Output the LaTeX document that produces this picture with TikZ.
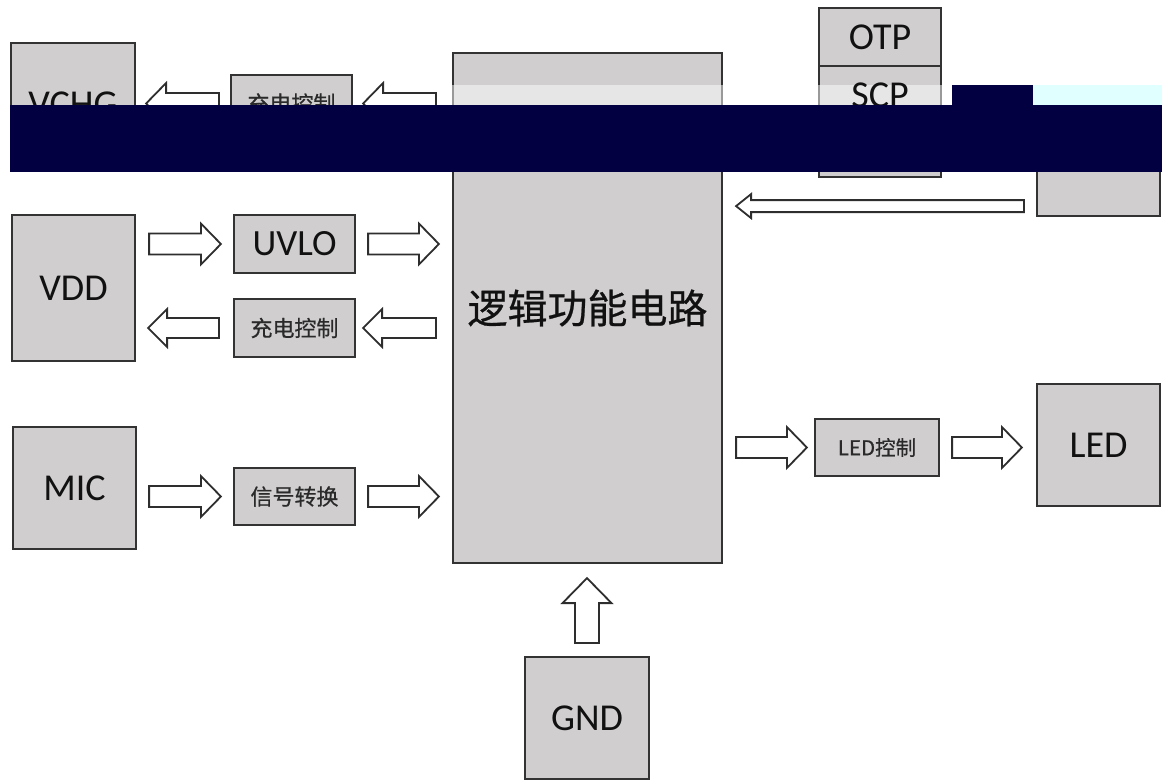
\documentclass[tikz,border=0pt]{standalone}
\usepackage{fontspec}
\setmainfont{Carlito}
\newfontfamily\cjk{Noto Sans CJK SC}[FakeBold=0.6]
\usetikzlibrary{calc}
\definecolor{boxfill}{HTML}{D0CECE}
\definecolor{boxline}{HTML}{333333}
\definecolor{arrowline}{HTML}{2E2E2E}
\definecolor{bandcol}{RGB}{2,0,64}
\definecolor{glitchcyan}{HTML}{E0FFFF}
\definecolor{txt}{HTML}{111111}
\definecolor{txtc}{HTML}{2A2A2A}
\newcommand\fL{\fontsize{38}{40}\selectfont}
\newcommand\fC{\cjk\fontsize{22}{24}\selectfont}
\newcommand\harrow[5]{\draw[barrow] let \p1=(#1),\p2=(#2),\p3=($(#2)!#5!(#1)$) in
  (\x1,\y1+#3) -- (\x3,\y1+#3) -- (\x3,\y1+#4) -- (\x2,\y1) -- (\x3,\y1-#4) -- (\x3,\y1-#3) -- (\x1,\y1-#3) -- cycle;}
\newcommand\varrow[5]{\draw[barrow] let \p1=(#1),\p2=(#2),\p3=($(#2)!#5!(#1)$) in
  (\x1-#3,\y1) -- (\x1-#3,\y3) -- (\x1-#4,\y3) -- (\x1,\y2) -- (\x1+#4,\y3) -- (\x1+#3,\y3) -- (\x1+#3,\y1) -- cycle;}
\begin{document}
\begin{tikzpicture}[x=1pt,y=-1pt,
  box/.style={draw=boxline, fill=boxfill, line width=2.2pt, inner sep=0pt, text=txt},
  bigbox/.style={box, font=\fL},
  smallbox/.style={box, font=\fC, text=txtc, minimum width=121pt, minimum height=57pt},
  barrow/.style={draw=arrowline, fill=white, line width=1.8pt, line join=miter}]
\useasboundingbox (0,0) rectangle (1162,780);
\fill[white] (0,0) rectangle (1162,780);

% main logic block
\node[box, minimum width=269pt, minimum height=510pt, font=\cjk\fontsize{40}{42}\selectfont] (logic) at (587.5,308) {逻辑功能电路};

% left column
\node[bigbox, minimum width=124pt, minimum height=122pt] (vchg) at (73,104) {VCHG};
\node[bigbox, minimum width=123pt, minimum height=146pt] (vdd) at (73.5,288) {VDD};
\node[bigbox, minimum width=123pt, minimum height=122pt] (mic) at (74.5,488) {MIC};

% middle column
\node[smallbox] (chg1) at (291.5,103.5) {充电控制};
\node[box, font=\fontsize{37}{39}\selectfont, minimum width=121pt, minimum height=58pt] (uvlo) at (294.5,244) {UVLO};
\node[smallbox, minimum height=58pt] (chg2) at (294.5,328) {充电控制};
\node[smallbox] (sig) at (294.5,496.5) {信号转换};

% right side
\node[bigbox, minimum width=122pt, minimum height=58pt] (otp) at (880,37) {OTP};
\node[box, minimum width=122pt, minimum height=111pt] (scp) at (880,121.5) {};
\node[box, minimum width=123pt, minimum height=122pt] (rbox) at (1098.5,155) {};
\node[box, font=\cjk\fontsize{20.5}{22}\selectfont, text=txtc, minimum width=124pt, minimum height=57pt] (ledc) at (877,447.5) {LED控制};
\node[bigbox, minimum width=123pt, minimum height=122pt] (led) at (1098.5,445) {LED};
\node[bigbox, minimum width=124pt, minimum height=122pt] (gnd) at (587,718) {GND};

% arrow end points
\coordinate (a1s) at ($(logic.west |- chg1.center)+(-16,0)$);
\coordinate (a1e) at ($(chg1.east)+(10,0)$);
\coordinate (a2s) at ($(chg1.west)+(-11,0)$);
\coordinate (a2e) at ($(vchg.east |- chg1.center)+(10,0)$);
\coordinate (b1s) at ($(vdd.east |- uvlo.center)+(13,0)$);
\coordinate (b1e) at ($(uvlo.west)+(-12,0)$);
\coordinate (b2s) at ($(uvlo.east)+(12,0)$);
\coordinate (b2e) at ($(logic.west |- uvlo.center)+(-13,0)$);
\coordinate (b3s) at ($(logic.west |- chg2.center)+(-16,0)$);
\coordinate (b3e) at ($(chg2.east)+(7,0)$);
\coordinate (b4s) at ($(chg2.west)+(-14,0)$);
\coordinate (b4e) at ($(vdd.east |- chg2.center)+(12,0)$);
\coordinate (c1s) at ($(mic.east |- sig.center)+(12,0)$);
\coordinate (c1e) at ($(sig.west)+(-12,0)$);
\coordinate (c2s) at ($(sig.east)+(12,0)$);
\coordinate (c2e) at ($(logic.west |- sig.center)+(-13,0)$);
\coordinate (d1s) at ($(logic.east |- ledc.center)+(13,0)$);
\coordinate (d1e) at ($(ledc.west)+(-7,0)$);
\coordinate (d2s) at ($(ledc.east)+(12,0)$);
\coordinate (d2e) at ($(led.west |- ledc.center)+(-14,0)$);
\coordinate (e1s) at ($(rbox.south west)+(-12,-11)$);
\coordinate (e1e) at ($(logic.east |- e1s)+(13,0)$);
\coordinate (f1s) at ($(gnd.north)+(0,-13)$);
\coordinate (f1e) at ($(logic.south -| gnd.north)+(0,14)$);

% block arrows
\harrow{a1s}{a1e}{10.5pt}{20.5pt}{20pt}
\harrow{a2s}{a2e}{10.5pt}{20.5pt}{20pt}
\harrow{b1s}{b1e}{10.5pt}{20.5pt}{20pt}
\harrow{b2s}{b2e}{10.5pt}{20.5pt}{20pt}
\harrow{b3s}{b3e}{10pt}{19pt}{19pt}
\harrow{b4s}{b4e}{10pt}{19pt}{19pt}
\harrow{c1s}{c1e}{10.5pt}{20.5pt}{20pt}
\harrow{c2s}{c2e}{10.5pt}{20.5pt}{20pt}
\harrow{d1s}{d1e}{10.5pt}{20.5pt}{20pt}
\harrow{d2s}{d2e}{10.5pt}{20.5pt}{20pt}
\harrow{e1s}{e1e}{6pt}{12pt}{15pt}
\varrow{f1s}{f1e}{12pt}{24.5pt}{25pt}

% damaged band of the image
\fill[white, opacity=0.5] (440,85) rectangle (952,105);
\fill[bandcol] (952,85) rectangle (1033,105);
\fill[glitchcyan] (1033,85) rectangle (1162,105);
\node[font=\fL, text=txt, inner sep=0pt] (scplbl) at (880,95) {SCP};
\fill[bandcol] (10,105) rectangle (1162,172);
\end{tikzpicture}
\end{document}
